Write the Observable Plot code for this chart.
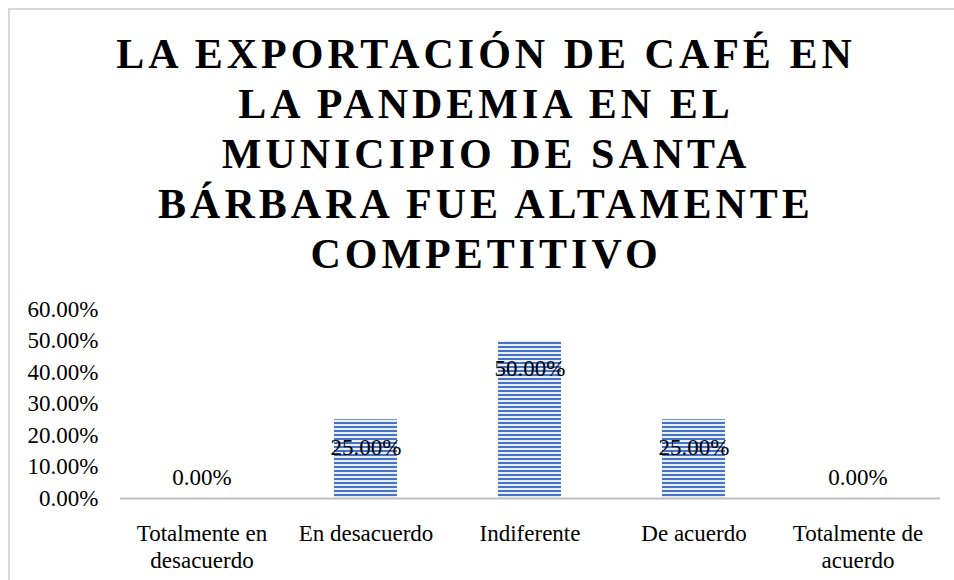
<!DOCTYPE html>
<html>
<head>
<meta charset="utf-8">
<script src="https://cdn.jsdelivr.net/npm/d3@7"></script>
<script src="https://cdn.jsdelivr.net/npm/@observablehq/plot@0.6"></script>
<style>
  html, body { margin: 0; padding: 0; background: #fff; overflow: hidden; width: 954px; height: 580px; }
  #frame { position: absolute; left: 8px; top: 8px; width: 1000px; height: 700px; border: 2px solid #d9d9d9; box-sizing: border-box; }
  #title { position: absolute; left: 0; top: 29px; width: 972px; text-align: center;
    font-family: "Liberation Serif", "Times New Roman", serif; font-weight: bold; font-size: 42px;
    line-height: 50px; letter-spacing: 4px; color: #000; }
  #chart { position: absolute; left: 0; top: 290px; }
</style>
</head>
<body>
<div id="frame"></div>
<div id="title">LA EXPORTACIÓN DE CAFÉ EN<br>LA PANDEMIA EN EL<br>MUNICIPIO DE SANTA<br>BÁRBARA FUE ALTAMENTE<br>COMPETITIVO</div>
<div id="chart"></div>
<script>
const categories = ["Totalmente en desacuerdo", "En desacuerdo", "Indiferente", "De acuerdo", "Totalmente de acuerdo"];
const categoryLabels = ["Totalmente en\ndesacuerdo", "En desacuerdo", "Indiferente", "De acuerdo", "Totalmente de\nacuerdo"];
const values = [0, 0.25, 0.5, 0.25, 0];
const yTicks = [0, 0.1, 0.2, 0.3, 0.4, 0.5, 0.6];

const data = categories.map((c, i) => ({cat: c, value: values[i]}));
const pct = d => (d * 100).toFixed(2) + "%";
const serif = "'Liberation Serif', 'Times New Roman', serif";

const defsMark = () => {
  const ns = "http://www.w3.org/2000/svg";
  const g = document.createElementNS(ns, "defs");
  g.innerHTML = `<pattern id="stripes" patternUnits="userSpaceOnUse" width="8" height="4">
      <rect x="0" y="0" width="8" height="4" fill="#e9eef8"></rect>
      <rect x="0" y="0" width="8" height="2" fill="#4472c4"></rect>
    </pattern>`;
  return g;
};

const chart = Plot.plot({
  width: 954,
  height: 290,
  marginLeft: 120,
  marginRight: 14,
  marginTop: 19,
  marginBottom: 82,
  style: {fontFamily: serif, fontSize: "23px", color: "#000", background: "transparent", overflow: "visible"},
  x: {domain: categories, paddingInner: 0.615, paddingOuter: 0.3075, axis: null},
  y: {domain: [0, 0.6], axis: null},
  marks: [
    defsMark,
    Plot.barY(data, {x: "cat", y: "value", fill: "url(#stripes)"}),
    Plot.ruleY([0], {stroke: "#bfbfbf", strokeWidth: 2}),
    Plot.axisY({ticks: yTicks, tickFormat: pct, tickSize: 0, tickPadding: 22, fontSize: 23, fill: "#000", label: null, fontFamily: serif}),
    Plot.axisX({tickSize: 0, tickPadding: 23, fontSize: 23, fill: "#000", lineHeight: 1.17, label: null, fontFamily: serif,
      tickFormat: d => categoryLabels[categories.indexOf(d)]}),
    Plot.text(data.filter(d => d.value > 0), {x: "cat", y: "value", text: d => pct(d.value), dy: 28, fontSize: 23, fill: "#000", fontFamily: serif}),
    Plot.text(data.filter(d => d.value === 0), {x: "cat", y: "value", text: d => pct(d.value), dy: -21, fontSize: 23, fill: "#000", fontFamily: serif})
  ]
});
document.getElementById("chart").appendChild(chart);
</script>
</body>
</html>
